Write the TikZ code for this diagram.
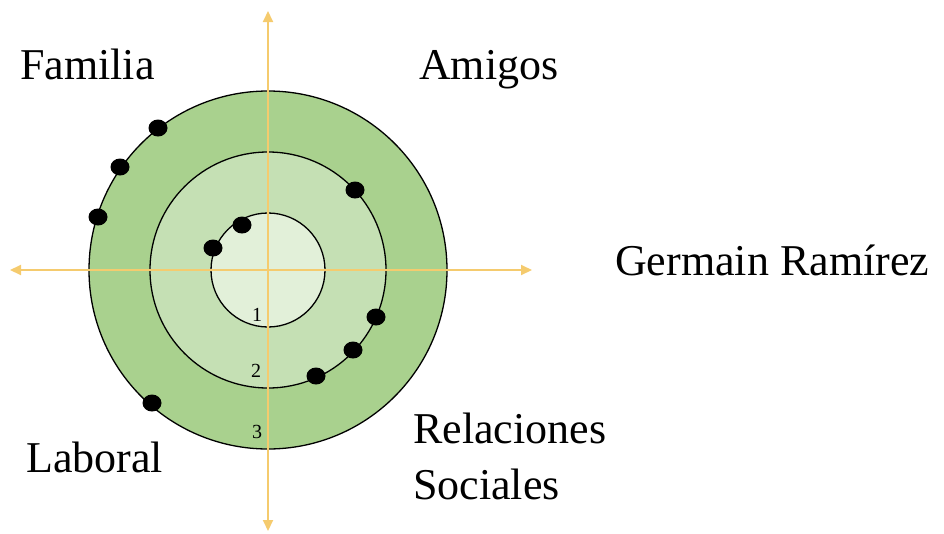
\documentclass[tikz,border=0pt]{standalone}
\usepackage{fontspec}
\setmainfont{Liberation Serif}
\usetikzlibrary{arrows.meta,shapes.geometric}
\definecolor{ringout}{HTML}{A9D18E}
\definecolor{ringmid}{HTML}{C5E0B4}
\definecolor{ringin}{HTML}{E2F0D9}
\definecolor{axiscol}{HTML}{F5CB6E}
\tikzset{
  ring/.style={circle,draw=black,line width=1.3pt,inner sep=0pt},
  dotmark/.style={ellipse,fill=black,minimum width=19pt,minimum height=17pt,inner sep=0pt},
  axisline/.style={draw=axiscol,line width=2pt,-{Triangle[length=11pt,width=10pt]}},
  biglabel/.style={anchor=base west,inner sep=0pt,font=\fontsize{44}{52}\selectfont},
  numlabel/.style={inner sep=0pt,font=\fontsize{20}{22}\selectfont}
}
\begin{document}
\begin{tikzpicture}[x=1pt,y=-1pt]
\useasboundingbox (0,0) rectangle (944,533);
\coordinate (c) at (268,270);
\node[ring,fill=ringout,minimum size=358pt] (outer) at (c) {};
\node[ring,fill=ringmid,minimum size=236pt] (middle) at (c) {};
\node[ring,fill=ringin,minimum size=114pt] (inner) at (c) {};
% axes
\coordinate (top) at (268,11);
\coordinate (bot) at (268,531);
\coordinate (lft) at (10,270);
\coordinate (rgt) at (532,270);
\draw[axisline] (c) -- (top);
\draw[axisline] (c) -- (bot);
\draw[axisline] (c) -- (lft);
\draw[axisline] (c) -- (rgt);
% numbers
\node[numlabel] (n1) at (257,315) {1};
\node[numlabel] (n2) at (256,371) {2};
\node[numlabel] (n3) at (257,432) {3};
% dots
\node[dotmark] (d1) at (158,128) {};
\node[dotmark] (d2) at (120,167) {};
\node[dotmark] (d3) at (98,217) {};
\node[dotmark] (d4) at (152,403) {};
\node[dotmark] (d5) at (242,225) {};
\node[dotmark] (d6) at (213,248) {};
\node[dotmark] (d7) at (355,190) {};
\node[dotmark] (d8) at (376,317) {};
\node[dotmark] (d9) at (353,350) {};
\node[dotmark] (d10) at (316,376) {};
% labels
\node[biglabel] (fam) at (20,79) {Familia};
\node[biglabel] (ami) at (419,79) {Amigos};
\node[biglabel] (ger) at (615,275) {Germain Ramírez};
\node[biglabel] (lab) at (26,472) {Laboral};
\node[biglabel] (rel) at (413,443) {Relaciones};
\node[biglabel] (soc) at (413,499) {Sociales};
\end{tikzpicture}
\end{document}
